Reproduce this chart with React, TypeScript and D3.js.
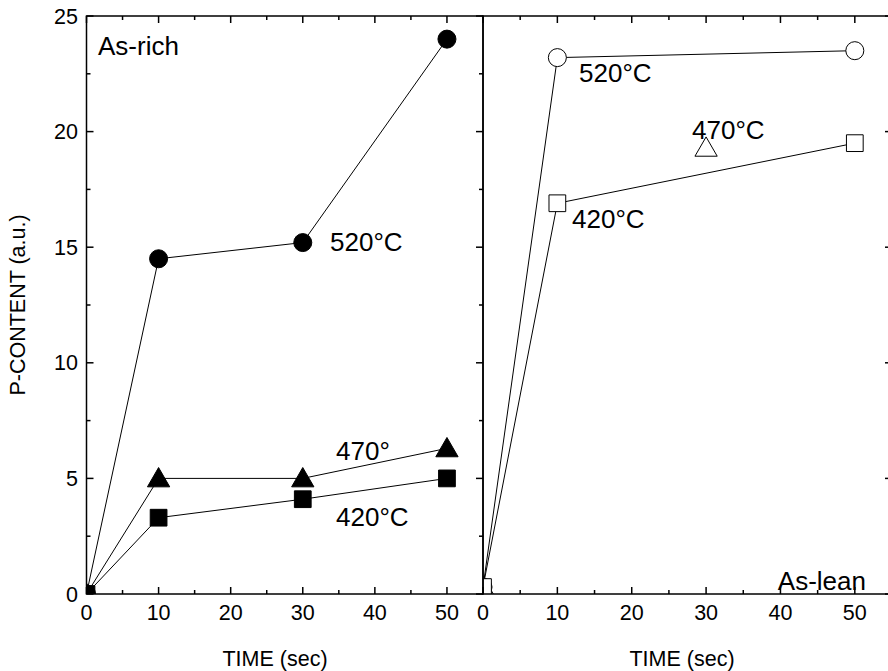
import React from 'react';
import * as d3 from 'd3';

// time axis (sec)
const timesRich = [0, 10, 30, 50];
const rich520 = [0, 14.5, 15.2, 24];
const rich470 = [0, 5, 5, 6.3];
const rich420 = [0, 3.3, 4.1, 5];

const timesLean = [0, 10, 50];
const lean520 = [0.3, 23.2, 23.5];
const lean420 = [0.3, 16.9, 19.5];
const lean470Time = [0, 30];
const lean470 = [0.3, 19.3];

const xTicks = [0, 10, 20, 30, 40, 50];
const yTicks = [0, 5, 10, 15, 20, 25];

const W = 888;
const H = 671;
const top = 16;
const bottom = 594;
const font = "'Liberation Sans', Arial, sans-serif";

const y = d3.scaleLinear().domain([0, 25]).range([bottom, top]);
const xL = d3.scaleLinear().domain([0, 55]).range([86.5, 483]);
const xR = d3.scaleLinear().domain([0, 55]).range([483, 892]);

const line = (xs: d3.ScaleLinear<number, number>, t: number[], v: number[]) =>
  d3.line<number>().x((_, i) => xs(t[i])).y(d => y(d))(v) || '';

type Kind = 'circle' | 'square' | 'triangle';
const sym = {
  circle: d3.symbol().type(d3.symbolCircle).size(255)(),
  square: d3.symbol().type(d3.symbolSquare).size(280)(),
  triangle: d3.symbol().type(d3.symbolTriangle).size(215)(),
};

function Markers({ xs, t, v, kind, filled }: { xs: d3.ScaleLinear<number, number>; t: number[]; v: number[]; kind: Kind; filled: boolean }) {
  return (
    <g>
      {v.map((d, i) => (
        <path
          key={i}
          d={sym[kind] || ''}
          transform={`translate(${xs(t[i])},${y(d) + (kind === 'triangle' ? 2 : 0)})`}
          fill={filled ? '#000' : '#fff'}
          stroke="#000"
          strokeWidth={1}
        />
      ))}
    </g>
  );
}

function Frame({ xs, showLeftTicks, showRightTicks }: { xs: d3.ScaleLinear<number, number>; showLeftTicks: boolean; showRightTicks: boolean }) {
  const [x0, x1] = xs.range();
  const minorX = d3.range(5, 55, 10);
  const minorY = d3.range(2.5, 25, 5);
  const items: React.ReactElement[] = [];
  xTicks.forEach(t => {
    items.push(<line key={'bx' + t} x1={xs(t)} x2={xs(t)} y1={bottom} y2={bottom - 7} />);
    items.push(<line key={'tx' + t} x1={xs(t)} x2={xs(t)} y1={top} y2={top + 7} />);
  });
  minorX.forEach(t => {
    items.push(<line key={'bmx' + t} x1={xs(t)} x2={xs(t)} y1={bottom} y2={bottom - 4} />);
    items.push(<line key={'tmx' + t} x1={xs(t)} x2={xs(t)} y1={top} y2={top + 4} />);
  });
  yTicks.forEach(t => {
    if (showLeftTicks) items.push(<line key={'ly' + t} x1={x0} x2={x0 + 7} y1={y(t)} y2={y(t)} />);
    if (showRightTicks) items.push(<line key={'ry' + t} x1={x1} x2={x1 - 7} y1={y(t)} y2={y(t)} />);
  });
  minorY.forEach(t => {
    if (showLeftTicks) items.push(<line key={'lmy' + t} x1={x0} x2={x0 + 4} y1={y(t)} y2={y(t)} />);
    if (showRightTicks) items.push(<line key={'rmy' + t} x1={x1} x2={x1 - 4} y1={y(t)} y2={y(t)} />);
  });
  return (
    <g stroke="#000" strokeWidth={1.5}>
      {items}
      <rect x={x0} y={top} width={x1 - x0} height={bottom - top} fill="none" />
    </g>
  );
}

export default function App() {
  return (
    <svg width={W} height={H} style={{ position: 'absolute', left: 0, top: 0, background: '#fff' }} fontFamily={font}>
      <defs>
        <clipPath id="clipL"><rect x={xL(0)} y={top} width={xL(55) - xL(0)} height={bottom - top} /></clipPath>
        <clipPath id="clipR"><rect x={xR(0)} y={top} width={xR(55) - xR(0)} height={bottom - top} /></clipPath>
      </defs>

      {/* left panel: As-rich */}
      <g clipPath="url(#clipL)">
        <g fill="none" stroke="#000" strokeWidth={1}>
          <path d={line(xL, timesRich, rich520)} />
          <path d={line(xL, timesRich, rich470)} />
          <path d={line(xL, timesRich, rich420)} />
        </g>
        <Markers xs={xL} t={timesRich} v={rich520} kind="circle" filled />
        <Markers xs={xL} t={timesRich} v={rich470} kind="triangle" filled />
        <Markers xs={xL} t={timesRich} v={rich420} kind="square" filled />
      </g>

      {/* right panel: As-lean */}
      <g clipPath="url(#clipR)">
        <g fill="none" stroke="#000" strokeWidth={1}>
          <path d={line(xR, timesLean, lean520)} />
          <path d={line(xR, timesLean, lean420)} />
        </g>
        <Markers xs={xR} t={timesLean} v={lean520} kind="circle" filled={false} />
        <Markers xs={xR} t={lean470Time} v={lean470} kind="triangle" filled={false} />
        <Markers xs={xR} t={timesLean} v={lean420} kind="square" filled={false} />
      </g>

      <Frame xs={xL} showLeftTicks showRightTicks />
      <Frame xs={xR} showLeftTicks={false} showRightTicks />

      <g fontSize={21.5} fill="#000">
        {yTicks.map(t => (
          <text key={'yl' + t} x={78} y={y(t)} dy="0.35em" textAnchor="end">{t}</text>
        ))}
        {xTicks.map(t => (
          <text key={'xl' + t} x={xL(t)} y={620} textAnchor="middle">{t}</text>
        ))}
        {xTicks.map(t => (
          <text key={'xr' + t} x={xR(t)} y={620} textAnchor="middle">{t}</text>
        ))}
        <text x={275} y={666} textAnchor="middle">TIME (sec)</text>
        <text x={682} y={666} textAnchor="middle">TIME (sec)</text>
        <text transform={`translate(25,${(top + bottom) / 2}) rotate(-90)`} textAnchor="middle">P-CONTENT (a.u.)</text>
      </g>

      <g fontSize={26} fill="#000">
        <text x={98} y={55}>As-rich</text>
        <text x={330} y={251}>520°C</text>
        <text x={336} y={460}>470°</text>
        <text x={336} y={526}>420°C</text>

        <text x={579} y={82}>520°C</text>
        <text x={692} y={139}>470°C</text>
        <text x={572} y={228}>420°C</text>
        <text x={866} y={590} textAnchor="end">As-lean</text>
      </g>
    </svg>
  );
}
